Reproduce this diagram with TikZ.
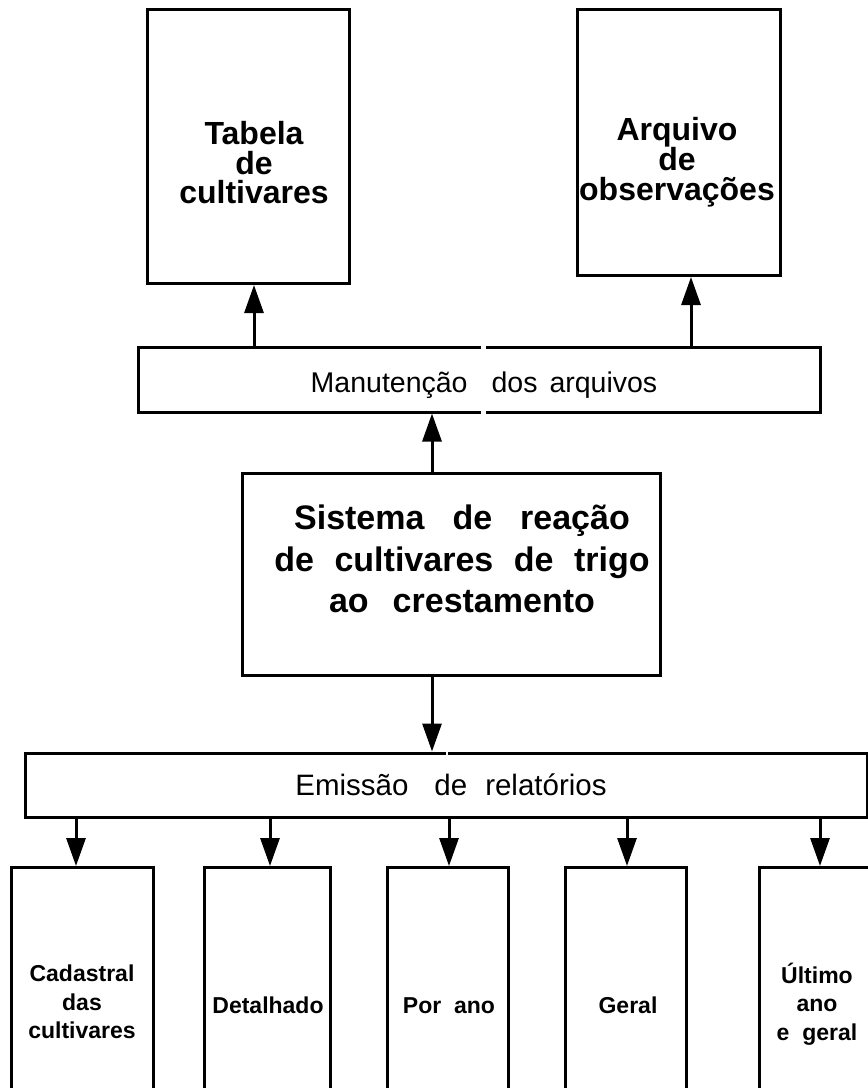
\documentclass[tikz,border=0pt]{standalone}
\usepackage{fontspec}
\setmainfont{Liberation Sans}
\usetikzlibrary{arrows.meta}
\begin{document}
\begin{tikzpicture}[x=1bp,y=-1bp,
  box/.style={draw,line width=3bp,inner sep=0pt,minimum height=#1},
  conn/.style={line width=3bp,-{Triangle[width=19bp,length=28bp]}},
  toptxt/.style={font=\fontsize{32bp}{29.5bp}\selectfont\bfseries,align=center,inner sep=0pt},
  bigtxt/.style={font=\fontsize{34bp}{41.5bp}\selectfont\bfseries,align=center,inner sep=0pt},
  bartxt/.style={font=\fontsize{28.5bp}{30bp}\selectfont,inner sep=0pt},
  emitxt/.style={font=\fontsize{29.5bp}{30bp}\selectfont,inner sep=0pt},
  smalltxt/.style={font=\fontsize{23bp}{28.5bp}\selectfont\bfseries,align=center,inner sep=0pt}]
\useasboundingbox (0,0) rectangle (868,1088);
% boxes
\node[box=274bp,minimum width=202bp,anchor=north] (tab) at (248,8) {};
\node[box=266bp,minimum width=203bp,anchor=north] (arq) at (678.5,8) {};
\node[box=65bp,minimum width=681bp] (man) at (479.5,379.5) {};
\node[box=202bp,minimum width=418bp] (sys) at (451,574) {};
\node[box=64bp,minimum width=841bp] (emi) at (446.5,785) {};
\node[box=278bp,minimum width=141bp,anchor=north] (b1) at (82.5,866) {};
\node[box=278bp,minimum width=126bp,anchor=north] (b2) at (267,866) {};
\node[box=278bp,minimum width=121bp,anchor=north] (b3) at (447.5,866) {};
\node[box=278bp,minimum width=121bp,anchor=north] (b4) at (625.5,866) {};
\node[box=278bp,minimum width=121bp,anchor=north] (b5) at (819.5,866) {};
% small gaps in the bar outlines
\draw[white,line width=4bp] (480.5,347) -- (485.5,347) (480.5,412) -- (485.5,412);
\draw[white,line width=4bp] (446.3,753) -- (448.3,753);
% texts
\node[toptxt] (tabT) at (254,163) {Tabela\\de\\cultivares};
\node[toptxt] (arqT) at (677,162) {Arquivo\\de\\observações};
\node[bartxt] (manT) at (484,385) {Manutenção\hspace{24bp}dos\hspace{12bp}arquivos};
\node[bigtxt] (sysT) at (462,559) {Sistema\hspace{28bp}de\hspace{28bp}reação\\de\hspace{20.5bp}cultivares\hspace{20.5bp}de\hspace{20.5bp}trigo\\ao\hspace{24bp}crestamento};
\node[emitxt] (emiT) at (451,785) {Emissão\hspace{26bp}de\hspace{18bp}relatórios};
\node[smalltxt] (t1) at (82,1002) {Cadastral\\das\\cultivares};
\node[smalltxt,anchor=base] (t2) at (268,1013) {Detalhado};
\node[smalltxt,anchor=base] (t3) at (449,1013) {Por~~ano};
\node[smalltxt,anchor=base] (t4) at (628,1013) {Geral};
\node[smalltxt] (t5) at (817,1004) {Último\\ano\\e~~geral};
% connector x positions
\coordinate (xa) at (254,0);
\coordinate (xb) at (691,0);
\coordinate (xc) at (432,0);
\coordinate (x1) at (76,0);
\coordinate (x2) at (270,0);
\coordinate (x3) at (449,0);
\coordinate (x4) at (627,0);
\coordinate (x5) at (820,0);
% connectors
\draw[conn] (man.north -| xa) -- (tab.south -| xa);
\draw[conn] (man.north -| xb) -- (arq.south -| xb);
\draw[conn] (sys.north -| xc) -- (man.south -| xc);
\draw[conn] (sys.south -| xc) -- (emi.north -| xc);
\draw[conn] (emi.south -| x1) -- (b1.north -| x1);
\draw[conn] (emi.south -| x2) -- (b2.north -| x2);
\draw[conn] (emi.south -| x3) -- (b3.north -| x3);
\draw[conn] (emi.south -| x4) -- (b4.north -| x4);
\draw[conn] (emi.south -| x5) -- (b5.north -| x5);
\end{tikzpicture}
\end{document}
